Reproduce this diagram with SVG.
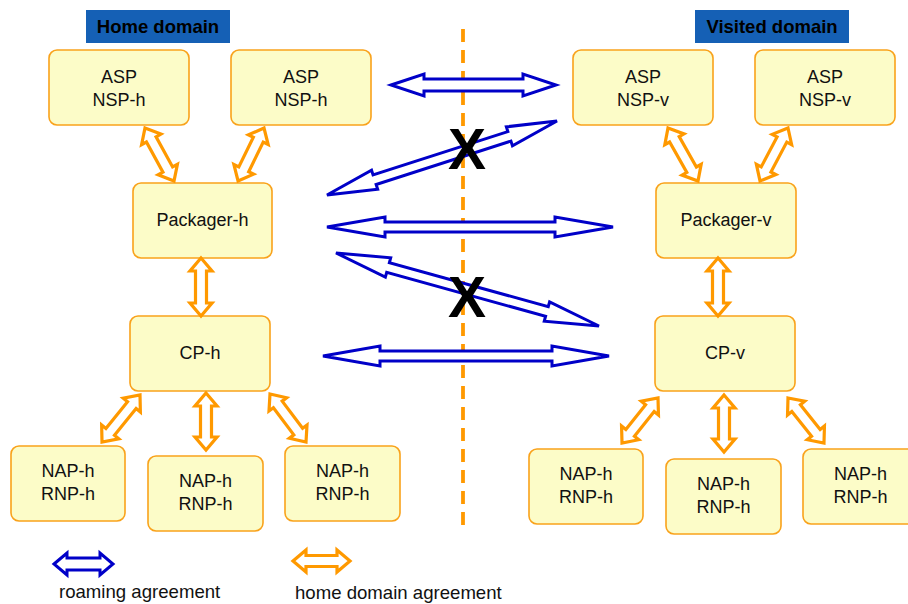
<svg xmlns="http://www.w3.org/2000/svg" width="908" height="604" viewBox="0 0 908 604">
  <style>
    .box { fill: #FCFCC8; stroke: #F9A21B; stroke-width: 1.6; }
    .lbl { font-family: "Liberation Sans", Arial, sans-serif; font-size: 18px; fill: #111; text-anchor: middle; }
    .dom { fill: #1560B5; }
    .domt { font-family: "Liberation Sans", Arial, sans-serif; font-size: 18.5px; font-weight: bold; fill: #000; text-anchor: middle; }
    .ora { fill: #fff; stroke: #FF9900; stroke-width: 3.2; stroke-linejoin: miter; }
    .blu { fill: #fff; stroke: #0000C8; stroke-width: 3; stroke-linejoin: miter; }
    .xm { font-family: "Liberation Sans", Arial, sans-serif; font-size: 57px; font-weight: bold; fill: #000; text-anchor: middle; }
    .leg { font-family: "Liberation Sans", Arial, sans-serif; font-size: 18.6px; fill: #111; }
  </style>

  <!-- domain border -->
  <line x1="463" y1="29" x2="463" y2="530" stroke="#FF9900" stroke-width="3.8" stroke-dasharray="13 8"/>

  <!-- domain titles -->
  <g id="home-domain">
    <rect class="dom" x="86" y="10" width="144" height="33"/>
    <text class="domt" x="158" y="33">Home domain</text>
  </g>
  <g id="visited-domain">
    <rect class="dom" x="695" y="10" width="154" height="33"/>
    <text class="domt" x="772" y="33">Visited domain</text>
  </g>

  <!-- home side nodes -->
  <g id="asp-h1">
    <rect class="box" x="49" y="50" width="140" height="75" rx="8"/>
    <text class="lbl" x="119" y="83">ASP</text>
    <text class="lbl" x="119" y="106">NSP-h</text>
  </g>
  <g id="asp-h2">
    <rect class="box" x="231" y="50" width="140" height="75" rx="8"/>
    <text class="lbl" x="301" y="83">ASP</text>
    <text class="lbl" x="301" y="106">NSP-h</text>
  </g>
  <g id="packager-h">
    <rect class="box" x="133" y="183" width="139" height="75" rx="8"/>
    <text class="lbl" x="202.5" y="226">Packager-h</text>
  </g>
  <g id="cp-h">
    <rect class="box" x="130" y="316" width="140" height="75" rx="8"/>
    <text class="lbl" x="200" y="359">CP-h</text>
  </g>
  <g id="nap-h1">
    <rect class="box" x="11" y="446" width="114" height="75" rx="8"/>
    <text class="lbl" x="68" y="477">NAP-h</text>
    <text class="lbl" x="68" y="500">RNP-h</text>
  </g>
  <g id="nap-h2">
    <rect class="box" x="148" y="456" width="115" height="75" rx="8"/>
    <text class="lbl" x="205.5" y="487">NAP-h</text>
    <text class="lbl" x="205.5" y="510">RNP-h</text>
  </g>
  <g id="nap-h3">
    <rect class="box" x="285" y="446" width="115" height="75" rx="8"/>
    <text class="lbl" x="342.5" y="477">NAP-h</text>
    <text class="lbl" x="342.5" y="500">RNP-h</text>
  </g>

  <!-- visited side nodes -->
  <g id="asp-v1">
    <rect class="box" x="573" y="50" width="140" height="75" rx="8"/>
    <text class="lbl" x="643" y="83">ASP</text>
    <text class="lbl" x="643" y="106">NSP-v</text>
  </g>
  <g id="asp-v2">
    <rect class="box" x="755" y="50" width="140" height="75" rx="8"/>
    <text class="lbl" x="825" y="83">ASP</text>
    <text class="lbl" x="825" y="106">NSP-v</text>
  </g>
  <g id="packager-v">
    <rect class="box" x="656" y="183" width="140" height="75" rx="8"/>
    <text class="lbl" x="726" y="226">Packager-v</text>
  </g>
  <g id="cp-v">
    <rect class="box" x="655" y="316" width="140" height="75" rx="8"/>
    <text class="lbl" x="725" y="359">CP-v</text>
  </g>
  <g id="nap-v1">
    <rect class="box" x="529" y="449" width="114" height="75" rx="8"/>
    <text class="lbl" x="586" y="480">NAP-h</text>
    <text class="lbl" x="586" y="503">RNP-h</text>
  </g>
  <g id="nap-v2">
    <rect class="box" x="666" y="459" width="115" height="75" rx="8"/>
    <text class="lbl" x="723.5" y="490">NAP-h</text>
    <text class="lbl" x="723.5" y="513">RNP-h</text>
  </g>
  <g id="nap-v3">
    <rect class="box" x="803" y="449" width="115" height="75" rx="8"/>
    <text class="lbl" x="860.5" y="480">NAP-h</text>
    <text class="lbl" x="860.5" y="503">RNP-h</text>
  </g>

  <!-- connectors: hollow double-headed arrows -->
  <g id="connectors">
    <!-- home domain agreements -->
    <polygon class="ora" transform="translate(145,128) rotate(61.3)" points="0,0 13,-11 13,-5.5 47.4,-5.5 47.4,-11 60.4,0 47.4,11 47.4,5.5 13,5.5 13,11"/>
    <polygon class="ora" transform="translate(264,128) rotate(116.1)" points="0,0 13,-11 13,-5.5 46,-5.5 46,-11 59,0 46,11 46,5.5 13,5.5 13,11"/>
    <polygon class="ora" transform="translate(201,258) rotate(90)" points="0,0 13,-11 13,-5.5 45,-5.5 45,-11 58,0 45,11 45,5.5 13,5.5 13,11"/>
    <polygon class="ora" transform="translate(140,395) rotate(128.96)" points="0,0 13,-11 13,-5.5 47.4,-5.5 47.4,-11 60.4,0 47.4,11 47.4,5.5 13,5.5 13,11"/>
    <polygon class="ora" transform="translate(206,393) rotate(90)" points="0,0 13,-11 13,-5.5 44,-5.5 44,-11 57,0 44,11 44,5.5 13,5.5 13,11"/>
    <polygon class="ora" transform="translate(270,394) rotate(53.13)" points="0,0 13,-11 13,-5.5 47,-5.5 47,-11 60,0 47,11 47,5.5 13,5.5 13,11"/>
    <polygon class="ora" transform="translate(668,128) rotate(60.49)" points="0,0 13,-11 13,-5.5 47.9,-5.5 47.9,-11 60.9,0 47.9,11 47.9,5.5 13,5.5 13,11"/>
    <polygon class="ora" transform="translate(788,128) rotate(117.85)" points="0,0 13,-11 13,-5.5 46.9,-5.5 46.9,-11 59.9,0 46.9,11 46.9,5.5 13,5.5 13,11"/>
    <polygon class="ora" transform="translate(718,258) rotate(90)" points="0,0 13,-11 13,-5.5 45,-5.5 45,-11 58,0 45,11 45,5.5 13,5.5 13,11"/>
    <polygon class="ora" transform="translate(658,398) rotate(128.66)" points="0,0 13,-11 13,-5.5 44.6,-5.5 44.6,-11 57.6,0 44.6,11 44.6,5.5 13,5.5 13,11"/>
    <polygon class="ora" transform="translate(724,395) rotate(90)" points="0,0 13,-11 13,-5.5 44,-5.5 44,-11 57,0 44,11 44,5.5 13,5.5 13,11"/>
    <polygon class="ora" transform="translate(788,398) rotate(51.34)" points="0,0 13,-11 13,-5.5 44.6,-5.5 44.6,-11 57.6,0 44.6,11 44.6,5.5 13,5.5 13,11"/>

    <!-- roaming agreements -->
    <polygon class="blu" transform="translate(391,85)" points="0,0 33,-11 33,-6 132,-6 132,-11 165,0 132,11 132,6 33,6 33,11"/>
    <polygon class="blu" transform="translate(327,195) rotate(-17.83)" points="0,0 50,-10 50,-5 191.6,-5 191.6,-10 241.6,0 191.6,10 191.6,5 50,5 50,10"/>
    <polygon class="blu" transform="translate(327,227)" points="0,0 58,-10 58,-5 228,-5 228,-10 286,0 228,10 228,5 58,5 58,10"/>
    <polygon class="blu" transform="translate(336,253) rotate(15.51)" points="0,0 54,-10 54,-5 218.9,-5 218.9,-10 272.9,0 218.9,10 218.9,5 54,5 54,10"/>
    <polygon class="blu" transform="translate(323,356)" points="0,0 57,-10 57,-5 229,-5 229,-10 286,0 229,10 229,5 57,5 57,10"/>
  </g>

  <!-- blocked roaming paths -->
  <text class="xm" x="467" y="169">X</text>
  <text class="xm" x="467" y="317">X</text>

  <!-- legend -->
  <g id="legend">
    <polygon class="blu" transform="translate(54,564)" points="0,0 13,-11 13,-6 46,-6 46,-11 59,0 46,11 46,6 13,6 13,11"/>
    <text class="leg" x="59" y="598">roaming agreement</text>
    <polygon class="ora" transform="translate(293,561)" points="0,0 13,-11 13,-5.5 44,-5.5 44,-11 57,0 44,11 44,5.5 13,5.5 13,11"/>
    <text class="leg" x="295" y="599">home domain agreement</text>
  </g>
</svg>
